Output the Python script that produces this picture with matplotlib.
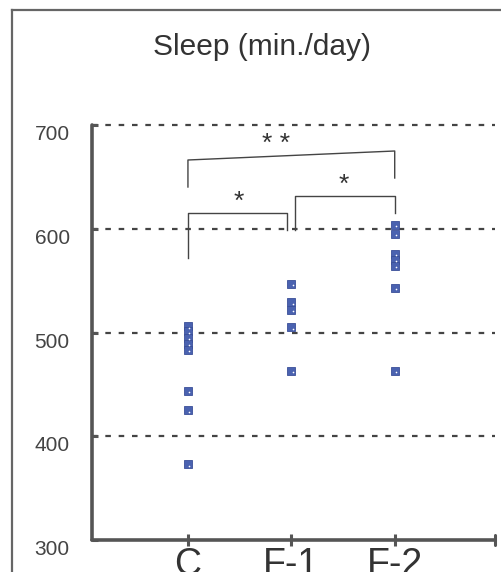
import matplotlib
matplotlib.use("Agg")
import matplotlib.pyplot as plt
from matplotlib.lines import Line2D

plt.rcParams["font.family"] = ["Liberation Sans", "DejaVu Sans"]

# ---- data ----
categories = ["C", "F-1", "F-2"]
values_C = [506, 501, 495, 489, 483, 444, 425, 373]
values_F1 = [547, 529, 522, 505, 463]
values_F2 = [604, 595, 576, 570, 564, 543, 463]
y_ticks = [300, 400, 500, 600, 700]
title = "Sleep (min./day)"
sig_labels = ["*", "*", "* *"]

gray = "#555555"
txt = "#333333"
blue = "#4a62b0"

fig = plt.figure(figsize=(5.02, 5.72), dpi=100)
ax = fig.add_axes([92/502, 1-540/572, (495-92)/502, (540-125)/572])

xs = [1, 2, 3]
for x, vals in zip(xs, [values_C, values_F1, values_F2]):
    ax.plot([x]*len(vals), vals, linestyle="none", marker="s", markersize=6,
            markerfacecolor=blue, markeredgecolor="#3a4f98", markeredgewidth=0.6, zorder=5)
    ax.plot([x+0.015]*len(vals), [v-1.2 for v in vals], linestyle="none", marker="o",
            markersize=1.2, markerfacecolor="white", markeredgecolor="none", zorder=6)

ax.set_xlim(0.072, 3.97)
ax.set_ylim(300, 700)
ax.set_yticks(y_ticks)
ax.set_yticklabels([str(v) for v in y_ticks], fontsize=15, color="#444444", va="top")
ax.set_xticks(xs)
ax.set_xticklabels(categories, fontsize=27, color=txt)

for v in y_ticks[1:]:
    ax.axhline(v, color="#444444", linewidth=1.6, linestyle=(0, (2.5, 3.5)), zorder=1, clip_on=False)

for s in ["top", "right"]:
    ax.spines[s].set_visible(False)
for s in ["left", "bottom"]:
    ax.spines[s].set_color(gray)
    ax.spines[s].set_linewidth(2.6)
    ax.spines[s].set_capstyle("round")

ax.tick_params(axis="y", direction="in", length=4, width=2.2, color=gray, pad=16)
ax.tick_params(axis="x", direction="inout", length=8, width=2.2, color=gray, pad=1)
# right end tick of x-axis
ax.plot([3.97, 3.97], [295.5, 304.5], color=gray, linewidth=2.2, clip_on=False, solid_capstyle="round")

# significance brackets (px -> data)
def dx(px):
    return (px - 188) / 103.5 + 1
def dy(py):
    return 700 - (py - 125) * 100 / 103.75

lw = 1.0
bc = "#444444"
# C vs F-1
ax.plot([dx(188), dx(188), dx(287), dx(287)], [dy(258), dy(213), dy(213), dy(230)], color=bc, lw=lw, clip_on=False)
ax.text(dx(239), dy(214), sig_labels[0], ha="center", va="bottom", fontsize=19, color=txt)
# F-1 vs F-2
ax.plot([dx(295), dx(295), dx(395), dx(395)], [dy(230), dy(196), dy(196), dy(213)], color=bc, lw=lw, clip_on=False)
ax.text(dx(344), dy(197), sig_labels[1], ha="center", va="bottom", fontsize=19, color=txt)
# C vs F-2
ax.plot([dx(188), dx(188), dx(395), dx(395)], [dy(187), dy(160), dy(151), dy(178)], color=bc, lw=lw, clip_on=False)
ax.text(dx(276), dy(156), sig_labels[2], ha="center", va="bottom", fontsize=19, color=txt)

fig.text(262/502, 1-47/572, title, ha="center", va="center", fontsize=21.5, color=txt)

# outer frame (left and top)
fig.add_artist(Line2D([12/502, 12/502], [0, 1-10/572], color="#666666", linewidth=1.6, transform=fig.transFigure))
fig.add_artist(Line2D([12/502, 1], [1-10/572, 1-10/572], color="#666666", linewidth=1.6, transform=fig.transFigure))

fig.savefig("out.png", dpi=100)
